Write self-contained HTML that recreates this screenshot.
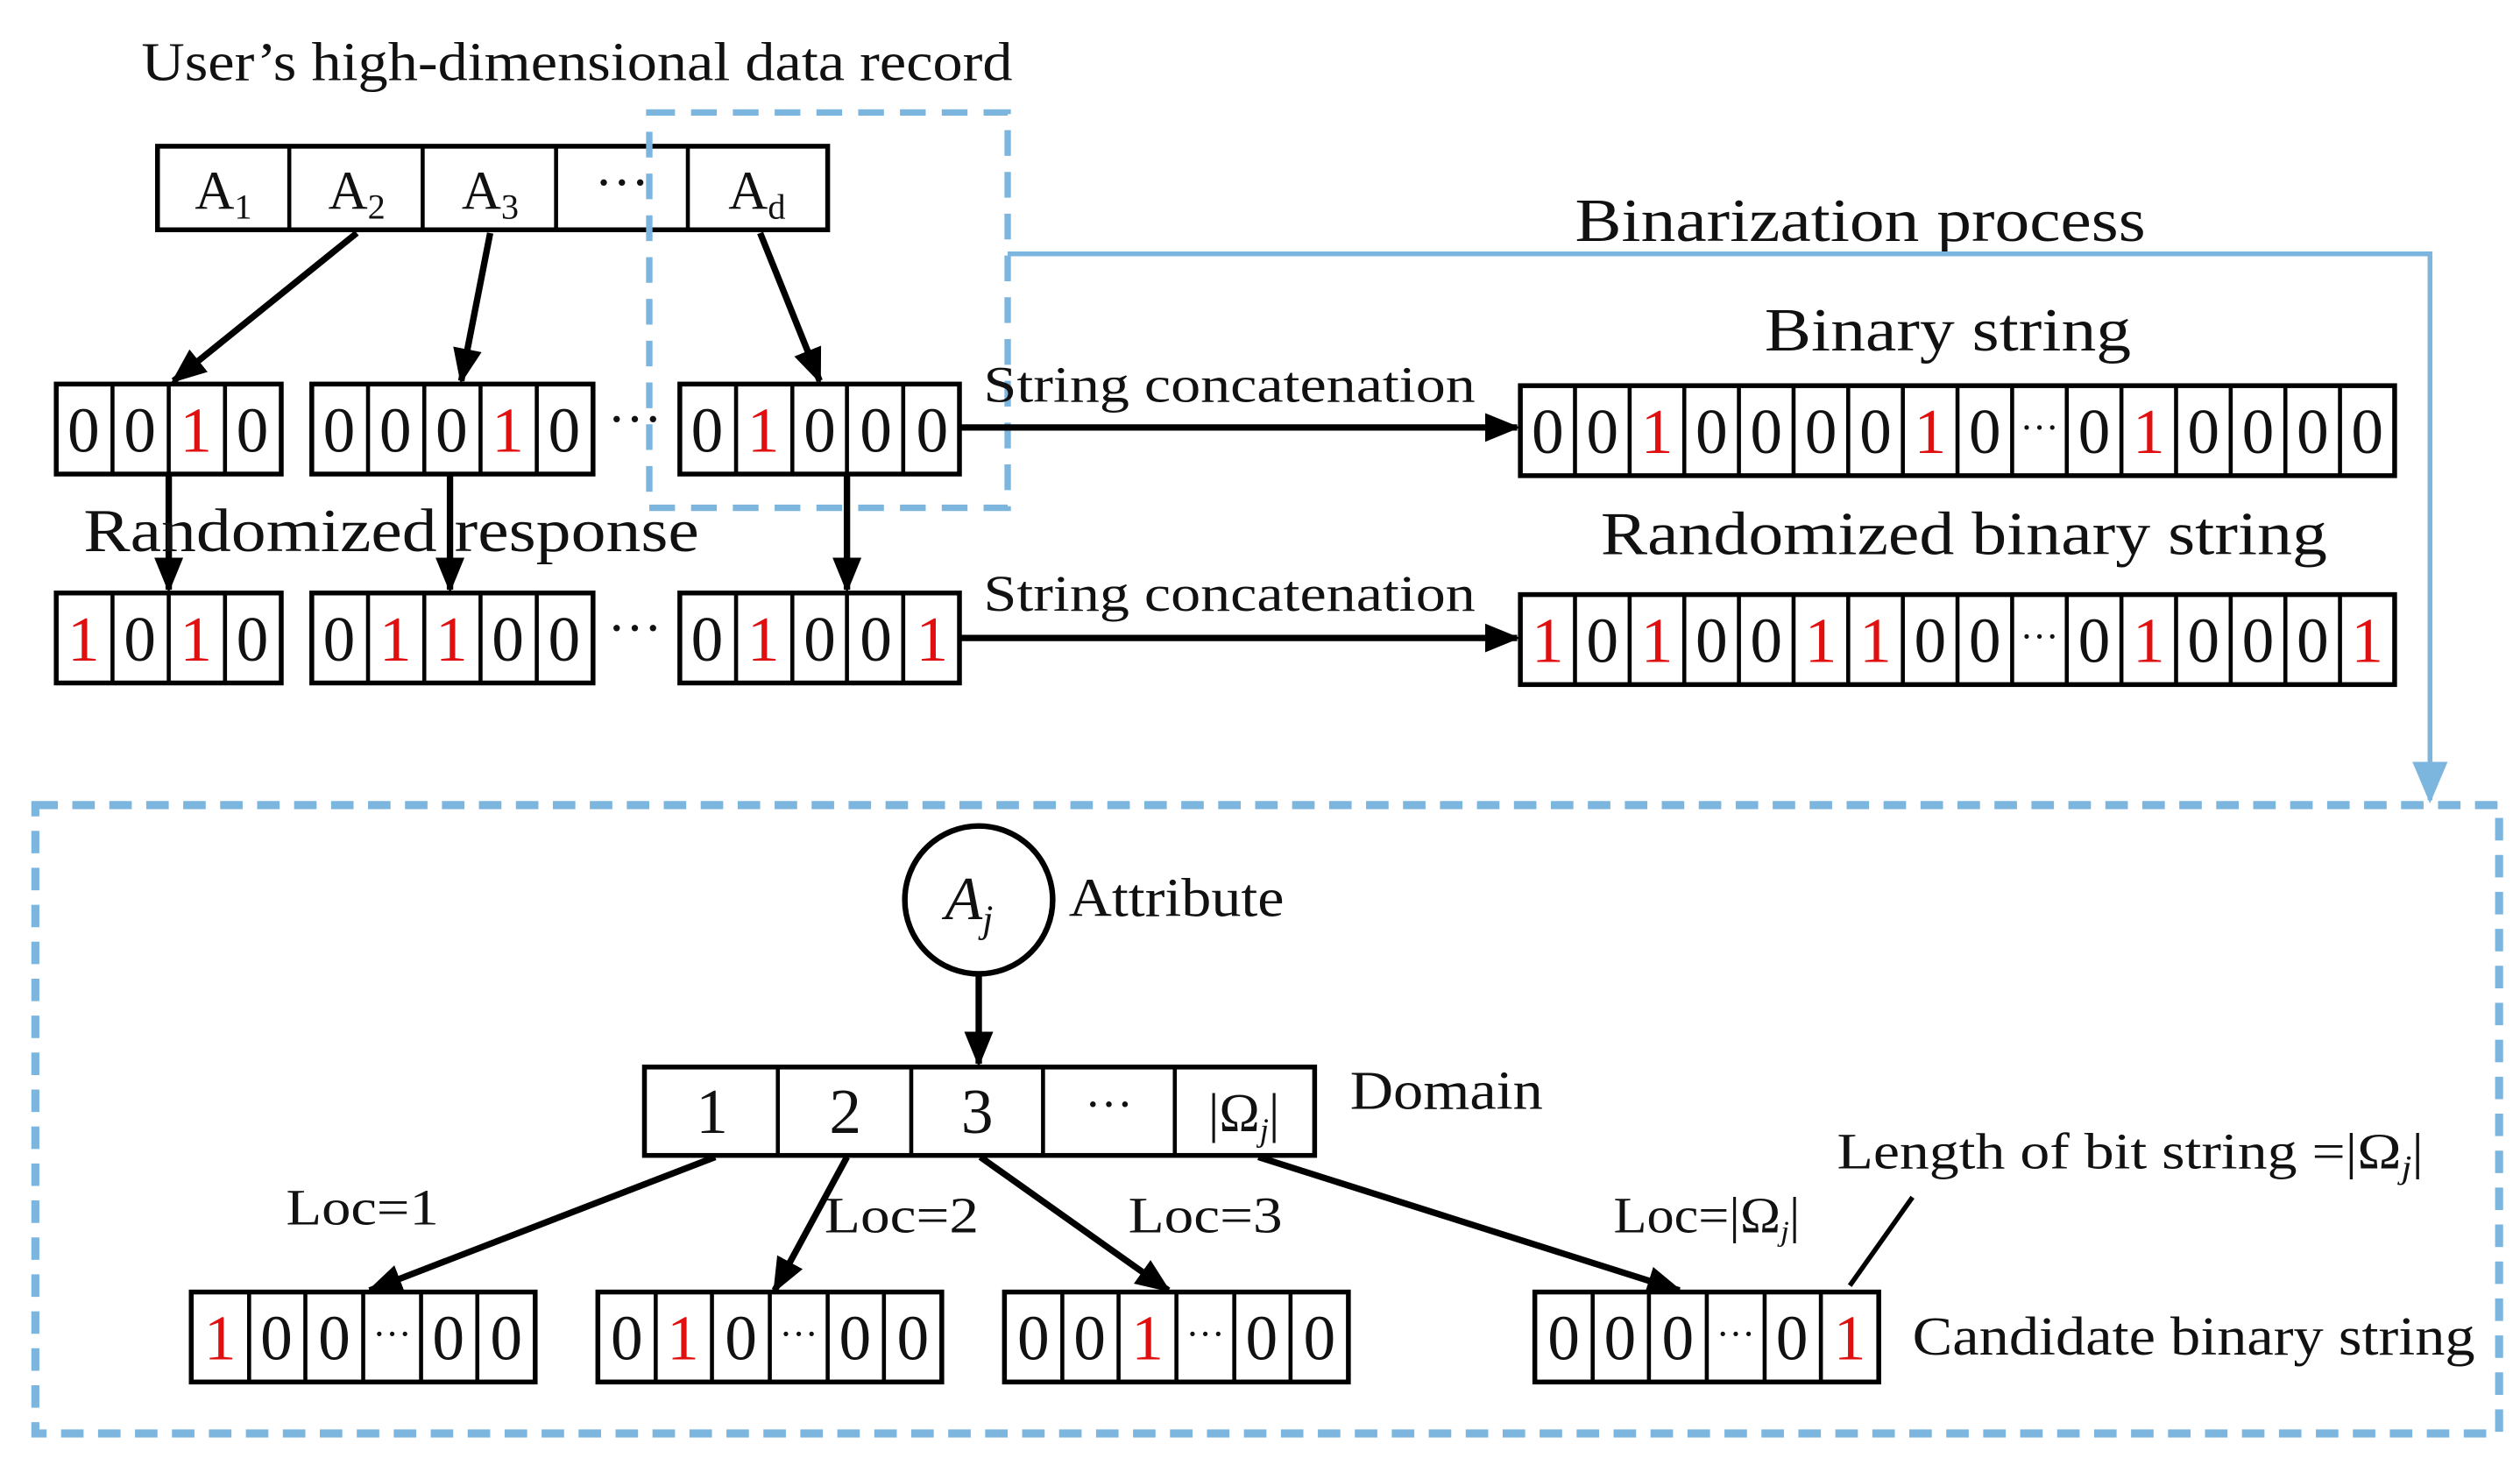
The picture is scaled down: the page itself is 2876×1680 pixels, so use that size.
<!DOCTYPE html>
<html><head><meta charset="utf-8"><style>
html,body{margin:0;padding:0;background:#fff;}
svg{display:block;}
text{font-family:"Liberation Serif",serif;fill:#111;}
.d{font-size:40px;text-anchor:middle;}
.r{fill:#e01010;}
.bx{fill:#fff;stroke:#000;stroke-width:3;}
.tb{stroke:#000;stroke-width:5;}
.dv{stroke:#000;stroke-width:2.5;}
.ar{stroke:#000;stroke-width:4;fill:none;}
</style></head><body>
<svg width="2876" height="1680" viewBox="0 0 1568 916" preserveAspectRatio="none" xmlns="http://www.w3.org/2000/svg">
<defs>
<marker id="ah" markerWidth="8" markerHeight="8" refX="7" refY="4" orient="auto" markerUnits="userSpaceOnUse" viewBox="0 0 8 8"><path d="M0,0 L8,4 L0,8 z" fill="#000"/></marker>
<marker id="ak" markerWidth="22" markerHeight="22" refX="20" refY="11" orient="auto" markerUnits="userSpaceOnUse"><path d="M0,2 L22,11 L0,20 z" fill="#000"/></marker>
<marker id="ab" markerWidth="26" markerHeight="26" refX="24" refY="13" orient="auto" markerUnits="userSpaceOnUse"><path d="M0,2 L26,13 L0,24 z" fill="#7cb6df"/></marker>
</defs>

<!-- Title -->
<text x="88" y="50" font-size="34" textLength="542" lengthAdjust="spacingAndGlyphs">User’s high-dimensional data record</text>

<!-- Top record -->
<rect class="bx" x="98" y="91" width="417" height="52"/>
<line class="dv" x1="180" y1="91" x2="180" y2="143"/><line class="dv" x1="263" y1="91" x2="263" y2="143"/><line class="dv" x1="346" y1="91" x2="346" y2="143"/><line class="dv" x1="428" y1="91" x2="428" y2="143"/>
<text x="139" y="130" font-size="34" text-anchor="middle">A<tspan font-size="22" dy="6">1</tspan></text>
<text x="222" y="130" font-size="34" text-anchor="middle">A<tspan font-size="22" dy="6">2</tspan></text>
<text x="305" y="130" font-size="34" text-anchor="middle">A<tspan font-size="22" dy="6">3</tspan></text>
<text x="387" y="125" font-size="34" text-anchor="middle">···</text>
<text x="471" y="130" font-size="34" text-anchor="middle">A<tspan font-size="22" dy="6">d</tspan></text>

<!-- dashed small rect -->
<rect x="404" y="70" width="223" height="246" fill="none" stroke="#7cb6df" stroke-width="4" stroke-dasharray="16,10"/>

<!-- arrows top -->
<line class="ar" x1="222" y1="145" x2="108" y2="237" marker-end="url(#ak)"/>
<line class="ar" x1="305" y1="145" x2="287" y2="237" marker-end="url(#ak)"/>
<line class="ar" x1="473" y1="145" x2="510" y2="237" marker-end="url(#ak)"/>
<line class="ar" x1="105" y1="295" x2="105" y2="367" marker-end="url(#ak)"/>
<line class="ar" x1="280" y1="295" x2="280" y2="367" marker-end="url(#ak)"/>
<line class="ar" x1="527" y1="295" x2="527" y2="367" marker-end="url(#ak)"/>

<!-- Row 1 -->
<g>
<rect class="bx" x="35" y="239" width="140" height="56"/>
<line class="dv" x1="70" y1="239" x2="70" y2="295"/><line class="dv" x1="105" y1="239" x2="105" y2="295"/><line class="dv" x1="140" y1="239" x2="140" y2="295"/>
<text class="d" x="52" y="281">0</text><text class="d" x="87" y="281">0</text><text class="d r" x="122" y="281">1</text><text class="d" x="157" y="281">0</text>
<rect class="bx" x="194" y="239" width="175" height="56"/>
<line class="dv" x1="229" y1="239" x2="229" y2="295"/><line class="dv" x1="264" y1="239" x2="264" y2="295"/><line class="dv" x1="299" y1="239" x2="299" y2="295"/><line class="dv" x1="334" y1="239" x2="334" y2="295"/>
<text class="d" x="211" y="281">0</text><text class="d" x="246" y="281">0</text><text class="d" x="281" y="281">0</text><text class="d r" x="316" y="281">1</text><text class="d" x="351" y="281">0</text>
<text x="395" y="272" font-size="34" text-anchor="middle">···</text>
<rect class="bx" x="423" y="239" width="174" height="56"/>
<line class="dv" x1="458" y1="239" x2="458" y2="295"/><line class="dv" x1="493" y1="239" x2="493" y2="295"/><line class="dv" x1="527" y1="239" x2="527" y2="295"/><line class="dv" x1="562" y1="239" x2="562" y2="295"/>
<text class="d" x="440" y="281">0</text><text class="d r" x="475" y="281">1</text><text class="d" x="510" y="281">0</text><text class="d" x="545" y="281">0</text><text class="d" x="580" y="281">0</text>
</g>

<text x="52" y="343" font-size="38" textLength="383" lengthAdjust="spacingAndGlyphs">Randomized response</text>

<!-- Row 2 -->
<g>
<rect class="bx" x="35" y="369" width="140" height="56"/>
<line class="dv" x1="70" y1="369" x2="70" y2="425"/><line class="dv" x1="105" y1="369" x2="105" y2="425"/><line class="dv" x1="140" y1="369" x2="140" y2="425"/>
<text class="d r" x="52" y="411">1</text><text class="d" x="87" y="411">0</text><text class="d r" x="122" y="411">1</text><text class="d" x="157" y="411">0</text>
<rect class="bx" x="194" y="369" width="175" height="56"/>
<line class="dv" x1="229" y1="369" x2="229" y2="425"/><line class="dv" x1="264" y1="369" x2="264" y2="425"/><line class="dv" x1="299" y1="369" x2="299" y2="425"/><line class="dv" x1="334" y1="369" x2="334" y2="425"/>
<text class="d" x="211" y="411">0</text><text class="d r" x="246" y="411">1</text><text class="d r" x="281" y="411">1</text><text class="d" x="316" y="411">0</text><text class="d" x="351" y="411">0</text>
<text x="395" y="402" font-size="34" text-anchor="middle">···</text>
<rect class="bx" x="423" y="369" width="174" height="56"/>
<line class="dv" x1="458" y1="369" x2="458" y2="425"/><line class="dv" x1="493" y1="369" x2="493" y2="425"/><line class="dv" x1="527" y1="369" x2="527" y2="425"/><line class="dv" x1="562" y1="369" x2="562" y2="425"/>
<text class="d" x="440" y="411">0</text><text class="d r" x="475" y="411">1</text><text class="d" x="510" y="411">0</text><text class="d" x="545" y="411">0</text><text class="d r" x="580" y="411">1</text>
</g>

<!-- concatenation arrows -->
<text x="612" y="250" font-size="32" textLength="306" lengthAdjust="spacingAndGlyphs">String concatenation</text>
<line class="ar" x1="597" y1="266" x2="944" y2="266" marker-end="url(#ak)"/>
<text x="612" y="380" font-size="32" textLength="306" lengthAdjust="spacingAndGlyphs">String concatenation</text>
<line class="ar" x1="597" y1="397" x2="944" y2="397" marker-end="url(#ak)"/>

<!-- Blue process line -->
<text x="980" y="150" font-size="38" textLength="355" lengthAdjust="spacingAndGlyphs">Binarization process</text>
<polyline points="627,158 1512,158 1512,498" fill="none" stroke="#7cb6df" stroke-width="3" marker-end="url(#ab)"/>

<!-- Binary string -->
<text x="1098" y="218" font-size="38" textLength="228" lengthAdjust="spacingAndGlyphs">Binary string</text>
<rect class="bx" x="946" y="240" width="544" height="56"/>
<g class="dv">
<line x1="980" y1="240" x2="980" y2="296"/><line x1="1014" y1="240" x2="1014" y2="296"/><line x1="1048" y1="240" x2="1048" y2="296"/><line x1="1082" y1="240" x2="1082" y2="296"/><line x1="1116" y1="240" x2="1116" y2="296"/><line x1="1150" y1="240" x2="1150" y2="296"/><line x1="1184" y1="240" x2="1184" y2="296"/><line x1="1218" y1="240" x2="1218" y2="296"/><line x1="1252" y1="240" x2="1252" y2="296"/><line x1="1286" y1="240" x2="1286" y2="296"/><line x1="1320" y1="240" x2="1320" y2="296"/><line x1="1354" y1="240" x2="1354" y2="296"/><line x1="1388" y1="240" x2="1388" y2="296"/><line x1="1422" y1="240" x2="1422" y2="296"/><line x1="1456" y1="240" x2="1456" y2="296"/>
</g>
<text class="d" x="963" y="282">0</text><text class="d" x="997" y="282">0</text><text class="d r" x="1031" y="282">1</text><text class="d" x="1065" y="282">0</text><text class="d" x="1099" y="282">0</text><text class="d" x="1133" y="282">0</text><text class="d" x="1167" y="282">0</text><text class="d r" x="1201" y="282">1</text><text class="d" x="1235" y="282">0</text><text x="1269" y="274" font-size="24" text-anchor="middle">···</text><text class="d" x="1303" y="282">0</text><text class="d r" x="1337" y="282">1</text><text class="d" x="1371" y="282">0</text><text class="d" x="1405" y="282">0</text><text class="d" x="1439" y="282">0</text><text class="d" x="1473" y="282">0</text>

<!-- Randomized binary string -->
<text x="996" y="345" font-size="38" textLength="452" lengthAdjust="spacingAndGlyphs">Randomized binary string</text>
<rect class="bx" x="946" y="370" width="544" height="56"/>
<g class="dv">
<line x1="980" y1="370" x2="980" y2="426"/><line x1="1014" y1="370" x2="1014" y2="426"/><line x1="1048" y1="370" x2="1048" y2="426"/><line x1="1082" y1="370" x2="1082" y2="426"/><line x1="1116" y1="370" x2="1116" y2="426"/><line x1="1150" y1="370" x2="1150" y2="426"/><line x1="1184" y1="370" x2="1184" y2="426"/><line x1="1218" y1="370" x2="1218" y2="426"/><line x1="1252" y1="370" x2="1252" y2="426"/><line x1="1286" y1="370" x2="1286" y2="426"/><line x1="1320" y1="370" x2="1320" y2="426"/><line x1="1354" y1="370" x2="1354" y2="426"/><line x1="1388" y1="370" x2="1388" y2="426"/><line x1="1422" y1="370" x2="1422" y2="426"/><line x1="1456" y1="370" x2="1456" y2="426"/>
</g>
<text class="d r" x="963" y="412">1</text><text class="d" x="997" y="412">0</text><text class="d r" x="1031" y="412">1</text><text class="d" x="1065" y="412">0</text><text class="d" x="1099" y="412">0</text><text class="d r" x="1133" y="412">1</text><text class="d r" x="1167" y="412">1</text><text class="d" x="1201" y="412">0</text><text class="d" x="1235" y="412">0</text><text x="1269" y="404" font-size="24" text-anchor="middle">···</text><text class="d" x="1303" y="412">0</text><text class="d r" x="1337" y="412">1</text><text class="d" x="1371" y="412">0</text><text class="d" x="1405" y="412">0</text><text class="d" x="1439" y="412">0</text><text class="d r" x="1473" y="412">1</text>

<!-- Bottom dashed rect -->
<rect x="22" y="501" width="1533" height="391" fill="none" stroke="#7cb6df" stroke-width="5" stroke-dasharray="14,9"/>

<!-- Attribute -->
<circle cx="609" cy="560" r="46" fill="#fff" stroke="#000" stroke-width="3.5"/>
<text x="603" y="572" font-size="38" font-style="italic" text-anchor="middle">A<tspan font-size="24" dy="8">j</tspan></text>
<text x="665" y="570" font-size="34" textLength="134" lengthAdjust="spacingAndGlyphs">Attribute</text>
<line class="ar" x1="609" y1="606" x2="609" y2="662" marker-end="url(#ak)"/>

<!-- Domain -->
<rect class="bx" x="401" y="664" width="417" height="55"/>
<line class="dv" x1="484" y1="664" x2="484" y2="719"/><line class="dv" x1="567" y1="664" x2="567" y2="719"/><line class="dv" x1="649" y1="664" x2="649" y2="719"/><line class="dv" x1="731" y1="664" x2="731" y2="719"/>
<text class="d" x="443" y="705" font-size="36">1</text><text class="d" x="526" y="705">2</text><text class="d" x="608" y="705">3</text>
<text x="690" y="697" font-size="30" text-anchor="middle">···</text>
<text x="774" y="704" font-size="34" text-anchor="middle">|Ω<tspan font-size="20" dy="6" font-style="italic">j</tspan><tspan dy="-6">|</tspan></text>
<text x="840" y="690" font-size="34" textLength="120" lengthAdjust="spacingAndGlyphs">Domain</text>

<text x="1143" y="727" font-size="32" textLength="365" lengthAdjust="spacingAndGlyphs">Length of bit string =|Ω<tspan font-size="20" dy="6" font-style="italic">j</tspan><tspan dy="-6">|</tspan></text>
<line x1="1190" y1="745" x2="1151" y2="800" stroke="#000" stroke-width="3"/>

<!-- Loc arrows -->
<line class="ar" x1="445" y1="720" x2="230" y2="803" marker-end="url(#ak)"/>
<line class="ar" x1="527" y1="720" x2="482" y2="803" marker-end="url(#ak)"/>
<line class="ar" x1="610" y1="720" x2="727" y2="803" marker-end="url(#ak)"/>
<line class="ar" x1="783" y1="720" x2="1045" y2="803" marker-end="url(#ak)"/>
<text x="178" y="762" font-size="32" textLength="95" lengthAdjust="spacingAndGlyphs">Loc=1</text>
<text x="513" y="767" font-size="32" textLength="96" lengthAdjust="spacingAndGlyphs">Loc=2</text>
<text x="702" y="767" font-size="32" textLength="96" lengthAdjust="spacingAndGlyphs">Loc=3</text>
<text x="1004" y="767" font-size="32" textLength="116" lengthAdjust="spacingAndGlyphs">Loc=|Ω<tspan font-size="18" dy="5" font-style="italic">j</tspan><tspan dy="-5">|</tspan></text>

<!-- Candidate strings -->
<g>
<rect class="bx" x="119" y="804" width="214" height="56"/>
<line class="dv" x1="155" y1="804" x2="155" y2="860"/><line class="dv" x1="190" y1="804" x2="190" y2="860"/><line class="dv" x1="226" y1="804" x2="226" y2="860"/><line class="dv" x1="262" y1="804" x2="262" y2="860"/><line class="dv" x1="297" y1="804" x2="297" y2="860"/>
<text class="d r" x="137" y="846">1</text><text class="d" x="172" y="846">0</text><text class="d" x="208" y="846">0</text><text x="244" y="838" font-size="24" text-anchor="middle">···</text><text class="d" x="279" y="846">0</text><text class="d" x="315" y="846">0</text>

<rect class="bx" x="372" y="804" width="214" height="56"/>
<line class="dv" x1="408" y1="804" x2="408" y2="860"/><line class="dv" x1="443" y1="804" x2="443" y2="860"/><line class="dv" x1="479" y1="804" x2="479" y2="860"/><line class="dv" x1="515" y1="804" x2="515" y2="860"/><line class="dv" x1="550" y1="804" x2="550" y2="860"/>
<text class="d" x="390" y="846">0</text><text class="d r" x="425" y="846">1</text><text class="d" x="461" y="846">0</text><text x="497" y="838" font-size="24" text-anchor="middle">···</text><text class="d" x="532" y="846">0</text><text class="d" x="568" y="846">0</text>

<rect class="bx" x="625" y="804" width="214" height="56"/>
<line class="dv" x1="661" y1="804" x2="661" y2="860"/><line class="dv" x1="696" y1="804" x2="696" y2="860"/><line class="dv" x1="732" y1="804" x2="732" y2="860"/><line class="dv" x1="768" y1="804" x2="768" y2="860"/><line class="dv" x1="803" y1="804" x2="803" y2="860"/>
<text class="d" x="643" y="846">0</text><text class="d" x="678" y="846">0</text><text class="d r" x="714" y="846">1</text><text x="750" y="838" font-size="24" text-anchor="middle">···</text><text class="d" x="785" y="846">0</text><text class="d" x="821" y="846">0</text>

<rect class="bx" x="955" y="804" width="214" height="56"/>
<line class="dv" x1="991" y1="804" x2="991" y2="860"/><line class="dv" x1="1026" y1="804" x2="1026" y2="860"/><line class="dv" x1="1062" y1="804" x2="1062" y2="860"/><line class="dv" x1="1098" y1="804" x2="1098" y2="860"/><line class="dv" x1="1133" y1="804" x2="1133" y2="860"/>
<text class="d" x="973" y="846">0</text><text class="d" x="1008" y="846">0</text><text class="d" x="1044" y="846">0</text><text x="1080" y="838" font-size="24" text-anchor="middle">···</text><text class="d" x="1115" y="846">0</text><text class="d r" x="1151" y="846">1</text>
</g>
<text x="1190" y="843" font-size="34" textLength="350" lengthAdjust="spacingAndGlyphs">Candidate binary string</text>
</svg>
</body></html>
